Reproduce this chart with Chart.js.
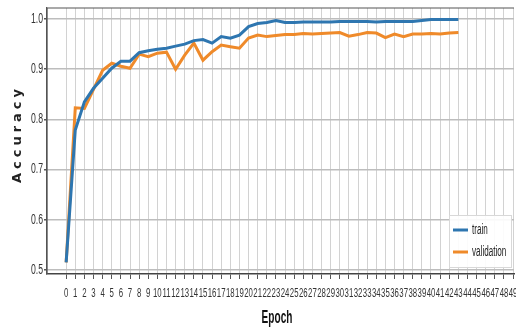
<!DOCTYPE html>
<html>
<head>
<meta charset="utf-8">
<script src="https://cdn.jsdelivr.net/npm/chart.js@4.4.1/dist/chart.umd.min.js"></script>
<style>
  html, body { margin: 0; padding: 0; background: #fff; }
  #wrap { width: 516px; height: 330px; }
</style>
</head>
<body>
<div id="wrap"><canvas id="acc" width="516" height="330"></canvas></div>
<script>
// epochs 0..43
var epochs = [0, 1, 2, 3, 4, 5, 6, 7, 8, 9, 10, 11, 12, 13, 14, 15, 16, 17, 18, 19, 20, 21,
  22, 23, 24, 25, 26, 27, 28, 29, 30, 31, 32, 33, 34, 35, 36, 37, 38, 39, 40, 41, 42, 43];

var trainAcc = [0.515, 0.779, 0.835, 0.862, 0.882, 0.902, 0.916, 0.916, 0.933, 0.937, 0.940,
  0.942, 0.946, 0.950, 0.957, 0.959, 0.952, 0.965, 0.962, 0.968, 0.985, 0.991,
  0.993, 0.997, 0.993, 0.993, 0.994, 0.994, 0.994, 0.994, 0.995, 0.995, 0.995,
  0.995, 0.994, 0.995, 0.995, 0.995, 0.995, 0.997, 0.999, 0.999, 0.999, 0.999];

var valAcc = [0.515, 0.823, 0.822, 0.860, 0.898, 0.912, 0.906, 0.902, 0.930, 0.925, 0.932,
  0.934, 0.900, 0.928, 0.952, 0.918, 0.935, 0.948, 0.945, 0.942, 0.962, 0.968,
  0.965, 0.967, 0.969, 0.969, 0.971, 0.970, 0.971, 0.972, 0.973, 0.966, 0.969,
  0.973, 0.972, 0.963, 0.970, 0.965, 0.970, 0.970, 0.971, 0.970, 0.972, 0.973];

var xTicks = [0, 1, 2, 3, 4, 5, 6, 7, 8, 9, 10, 11, 12, 13, 14, 15, 16, 17, 18, 19, 20, 21, 22, 23, 24,
  25, 26, 27, 28, 29, 30, 31, 32, 33, 34, 35, 36, 37, 38, 39, 40, 41, 42, 43, 44, 45, 46, 47, 48, 49];
var yTicks = [0.5, 0.6, 0.7, 0.8, 0.9, 1.0];

var BLUE = '#2e76b0';
var ORANGE = '#ef8a2a';
var FONT = '"Liberation Sans", Arial, sans-serif';

function pts(ys) {
  return epochs.map(function(e, i) { return { x: e, y: ys[i] }; });
}

// the source picture is squashed sideways, so text is drawn narrowed
function squeezed(ctx, text, x, y, font, sx, align) {
  ctx.save();
  ctx.translate(x, y);
  ctx.scale(sx, 1);
  ctx.font = font;
  ctx.textAlign = align;
  ctx.textBaseline = 'middle';
  ctx.fillText(text, 0, 0);
  ctx.restore();
}

var decor = {
  id: 'decor',
  afterDraw: function(chart) {
    var ctx = chart.ctx, a = chart.chartArea;
    var xs = chart.scales.x, ys = chart.scales.y;
    ctx.save();
    ctx.strokeStyle = '#555';
    ctx.lineWidth = 1.2;
    ctx.beginPath();
    ctx.moveTo(a.left, a.bottom);
    ctx.lineTo(a.left, a.top);
    ctx.lineTo(a.right, a.top);
    ctx.stroke();

    // tick labels
    ctx.fillStyle = '#333';
    xTicks.forEach(function(v) {
      squeezed(ctx, String(v), xs.getPixelForValue(v), 293, '13px ' + FONT, 0.6, 'center');
    });
    yTicks.forEach(function(v) {
      squeezed(ctx, v.toFixed(1), 43, ys.getPixelForValue(v), '14px ' + FONT, 0.62, 'right');
    });

    // axis titles
    ctx.fillStyle = '#111';
    squeezed(ctx, 'Epoch', 277, 318, 'bold 18px ' + FONT, 0.56, 'center');
    ctx.translate(18, 134);
    ctx.rotate(-Math.PI / 2);
    ctx.fillStyle = '#222';
    ctx.font = 'bold 13px "DejaVu Sans", sans-serif';
    ctx.letterSpacing = '4px';
    ctx.textAlign = 'center';
    ctx.textBaseline = 'middle';
    ctx.fillText('Accuracy', 0, 0);
    ctx.restore();

    // legend
    ctx.save();
    var bx = 449, by = 215, bw = 62, bh = 52;
    ctx.fillStyle = 'rgba(255,255,255,0.9)';
    ctx.strokeStyle = '#d8d8d8';
    ctx.lineWidth = 1;
    ctx.fillRect(bx, by, bw, bh);
    ctx.strokeRect(bx + 0.5, by + 0.5, bw, bh);
    chart.data.datasets.forEach(function(ds, i) {
      var ly = by + 15 + i * 22;
      ctx.strokeStyle = ds.borderColor;
      ctx.lineWidth = 3;
      ctx.beginPath();
      ctx.moveTo(bx + 4, ly);
      ctx.lineTo(bx + 19, ly);
      ctx.stroke();
      ctx.fillStyle = '#222';
      squeezed(ctx, ds.label, bx + 23, ly, '14px ' + FONT, 0.58, 'left');
    });
    ctx.restore();
  }
};

new Chart(document.getElementById('acc').getContext('2d'), {
  type: 'line',
  data: {
    datasets: [
      { label: 'train', data: pts(trainAcc), borderColor: BLUE, borderWidth: 3, pointRadius: 0, tension: 0 },
      { label: 'validation', data: pts(valAcc), borderColor: ORANGE, borderWidth: 3, pointRadius: 0, tension: 0 },
    ],
  },
  options: {
    responsive: false,
    animation: false,
    events: [],
    layout: { padding: { top: 8, right: 2, left: 0, bottom: 0 } },
    plugins: { legend: { display: false }, tooltip: { enabled: false } },
    scales: {
      x: {
        type: 'linear',
        min: -2.1,
        max: 49.1,
        afterBuildTicks: function(s) { s.ticks = xTicks.map(function(v) { return { value: v }; }); },
        afterFit: function(s) { s.height = 56; },
        grid: { color: '#d2d2d2', lineWidth: 1, tickLength: 5, tickColor: '#555' },
        border: { color: '#444', width: 1.5 },
        ticks: { display: false },
      },
      y: {
        min: 0.492,
        max: 1.022,
        afterBuildTicks: function(s) { s.ticks = yTicks.map(function(v) { return { value: v }; }); },
        afterFit: function(s) { s.width = 47; },
        grid: { color: '#bdbdbd', lineWidth: 1.6, tickLength: 3, tickColor: '#555' },
        border: { color: '#555', width: 1.2 },
        ticks: { display: false },
      },
    },
  },
  plugins: [decor],
});
</script>
</body>
</html>
